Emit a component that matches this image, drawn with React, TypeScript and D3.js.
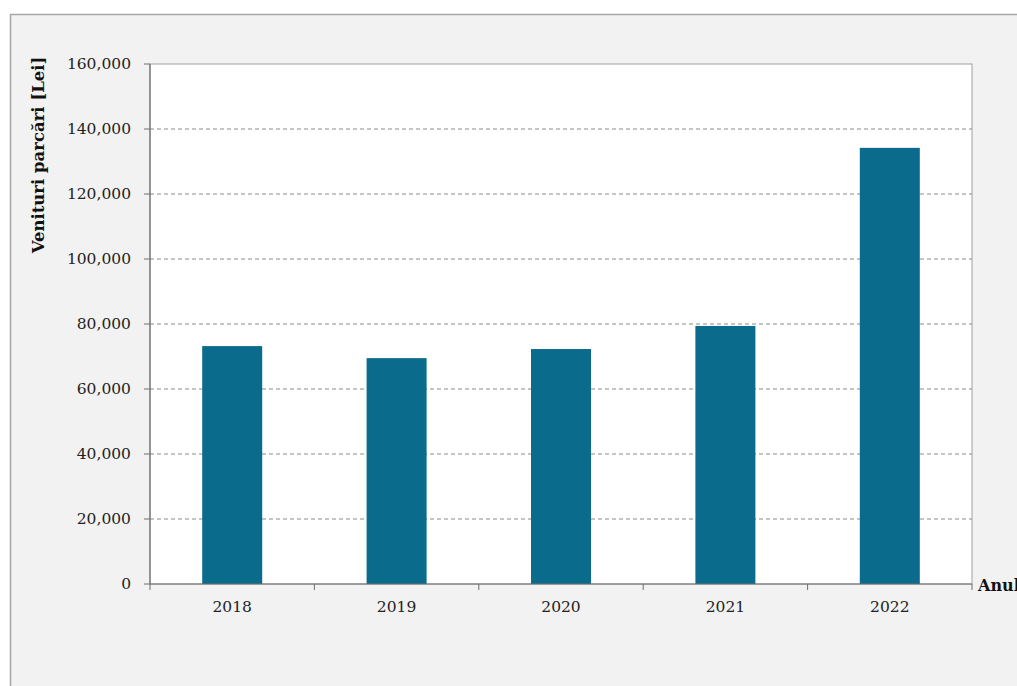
import React from "react";
import * as d3 from "d3";

const years = ["2018", "2019", "2020", "2021", "2022"];
const revenues = [73200, 69500, 72300, 79400, 134200];
const yTicks = [0, 20000, 40000, 60000, 80000, 100000, 120000, 140000, 160000];
const yTitle = "Venituri parcări [Lei]";
const xTitle = "Anul";

export default function App() {
  const W = 1017, H = 686;
  const left = 150, right = 972, top = 64, bottom = 584;
  const x = d3.scaleBand<string>().domain(years).range([left, right]).paddingInner(0.635).paddingOuter(0.3175);
  const xb = d3.scaleBand<string>().domain(years).range([left, right]);
  const y = d3.scaleLinear().domain([0, 160000]).range([bottom, top]);
  const fmt = d3.format(",");
  const font = "'DejaVu Serif', serif";
  return (
    <div style={{ position: "fixed", left: 0, top: 0 }}>
      <svg width={W} height={H} style={{ display: "block" }}>
        <rect x={0} y={0} width={W} height={H} fill="#ffffff" />
        <rect x={10.5} y={14.5} width={W + 20} height={H + 20} fill="#f2f2f2" stroke="#a6a6a6" strokeWidth={1.5} />
        <rect x={left} y={top} width={right - left} height={bottom - top} fill="#ffffff" stroke="#a0a0a0" strokeWidth={1} />
        {yTicks.filter(t => t > 0 && t < 160000).map(t => (
          <line key={"g" + t} x1={left} x2={right} y1={y(t)} y2={y(t)} stroke="#8a8a8a" strokeWidth={1} strokeDasharray="4,3" />
        ))}
        {years.map((yr, i) => (
          <rect key={yr} x={x(yr)} y={y(revenues[i])} width={x.bandwidth()} height={bottom - y(revenues[i])} fill="#0b6b8c" />
        ))}
        <line x1={left} x2={left} y1={top} y2={bottom} stroke="#6e6e6e" strokeWidth={1.2} />
        <line x1={left} x2={right} y1={bottom} y2={bottom} stroke="#6e6e6e" strokeWidth={1.2} />
        {yTicks.map(t => (
          <g key={"t" + t}>
            <line x1={left - 6} x2={left} y1={y(t)} y2={y(t)} stroke="#6e6e6e" />
            <text x={left - 19} y={y(t)} dy="0.35em" textAnchor="end" fontFamily={font} fontSize={15.5} fill="#222">{fmt(t)}</text>
          </g>
        ))}
        {years.concat(["end"]).map((yr, i) => {
          const xx = i < years.length ? (xb(yr) as number) : right;
          return <line key={"xt" + i} x1={xx} x2={xx} y1={bottom} y2={bottom + 6} stroke="#6e6e6e" />;
        })}
        {years.map(yr => (
          <text key={"xl" + yr} x={(x(yr) as number) + x.bandwidth() / 2} y={612} textAnchor="middle" fontFamily={font} fontSize={15.5} fill="#222">{yr}</text>
        ))}
        <text transform={`translate(44,155) rotate(-90)`} textAnchor="middle" fontFamily={font} fontWeight="bold" fontSize={16.5} fill="#111">{yTitle}</text>
        <text x={978} y={591} fontFamily={font} fontWeight="bold" fontSize={16} fill="#111">{xTitle}</text>
      </svg>
    </div>
  );
}
